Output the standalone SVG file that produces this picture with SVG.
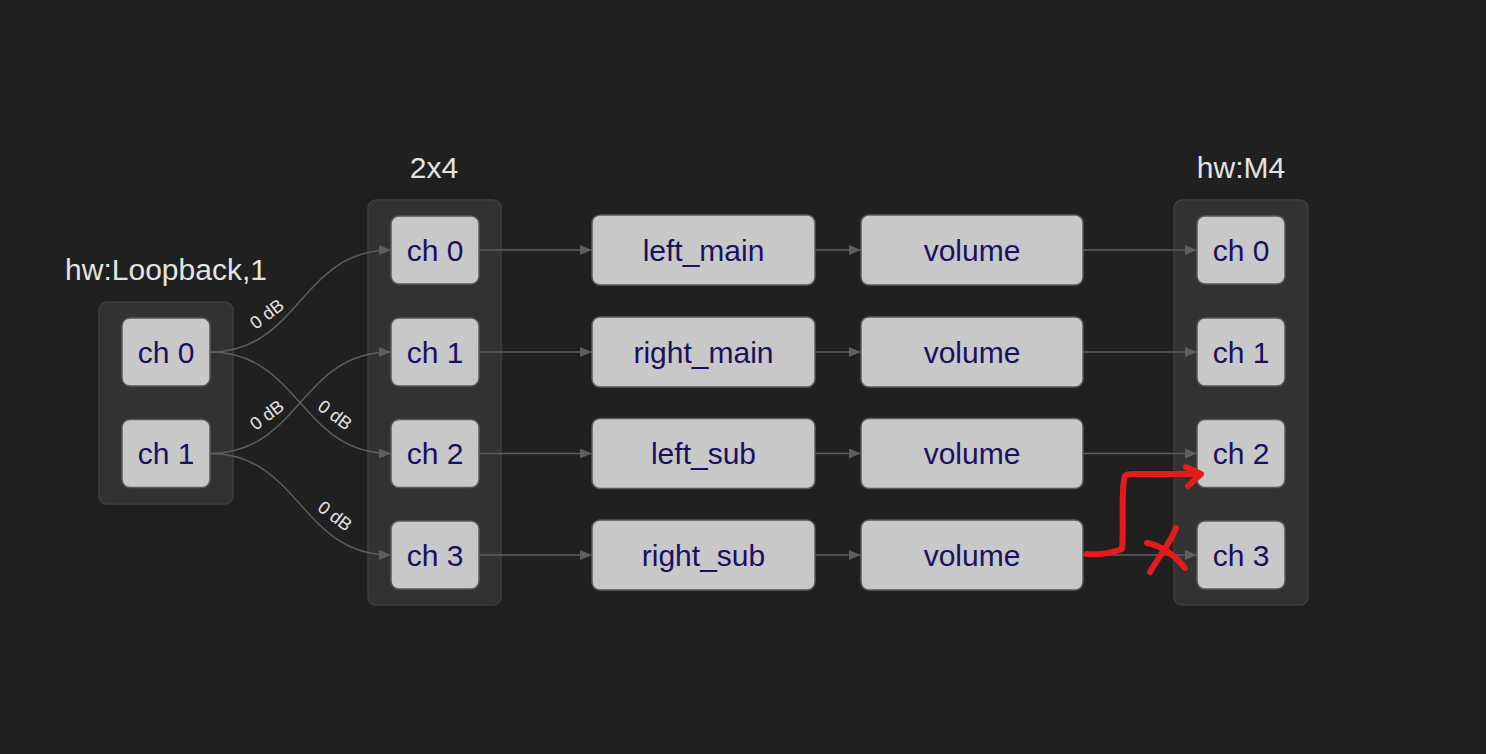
<svg xmlns="http://www.w3.org/2000/svg" width="1486" height="754" viewBox="0 0 1486 754">
<defs>
<marker id="arr" markerUnits="userSpaceOnUse" markerWidth="12" markerHeight="10" refX="12" refY="5" orient="auto">
<path d="M0,0 L12,5 L0,10 Z" fill="#5e5e5e"/>
</marker>
</defs>
<style>
.cl{fill:#323232;stroke:#3e3e3e;stroke-width:1.5}
.cll{font-family:"Liberation Sans",Arial,sans-serif;font-size:30px;fill:#e4e4e4;text-anchor:middle}
.nd{fill:#c8c8c8;stroke:#5a5a5a;stroke-width:1.5}
.nt{font-family:"Liberation Sans",Arial,sans-serif;font-size:30px;fill:#1a1060;text-anchor:middle;dominant-baseline:central}
.e{fill:none;stroke:#5e5e5e;stroke-width:1.5;marker-end:url(#arr)}
.el{font-family:"Liberation Sans",Arial,sans-serif;font-size:18px;fill:#e4e4e4;text-anchor:middle;dominant-baseline:central}
.red{fill:none;stroke:#e41b1b;stroke-width:6;stroke-linecap:round;stroke-linejoin:round}
</style>
<rect width="1486" height="754" fill="#202020"/>

<g id="cluster-loopback">
<rect class="cl" x="99" y="302" width="134" height="202" rx="8"/>
<text class="cll" x="166" y="280">hw:Loopback,1</text>
</g>
<g id="cluster-2x4">
<rect class="cl" x="368" y="200" width="133" height="405" rx="8"/>
<text class="cll" x="434" y="178">2x4</text>
</g>
<g id="cluster-m4">
<rect class="cl" x="1174" y="200" width="134" height="405" rx="8"/>
<text class="cll" x="1241" y="178">hw:M4</text>
</g>

<g id="connectors">
<path class="e" d="M210,352 C300,352 300,250 391,250"/>
<path class="e" d="M210,352 C300,352 300,453.5 391,453.5"/>
<path class="e" d="M210,453.5 C300,453.5 300,352 391,352"/>
<path class="e" d="M210,453.5 C300,453.5 300,555 391,555"/>
<text class="el" transform="translate(267,314) rotate(-37)">0 dB</text>
<text class="el" transform="translate(267,415) rotate(-37)">0 dB</text>
<text class="el" transform="translate(335,415) rotate(37)">0 dB</text>
<text class="el" transform="translate(335,516) rotate(37)">0 dB</text>
<path class="e" d="M479,250 H592"/>
<path class="e" d="M479,352 H592"/>
<path class="e" d="M479,453.5 H592"/>
<path class="e" d="M479,555 H592"/>
<path class="e" d="M815,250 H861"/>
<path class="e" d="M815,352 H861"/>
<path class="e" d="M815,453.5 H861"/>
<path class="e" d="M815,555 H861"/>
<path class="e" d="M1083,250 H1197"/>
<path class="e" d="M1083,352 H1197"/>
<path class="e" d="M1083,453.5 H1197"/>
<path class="e" d="M1083,555 H1197"/>
</g>

<g id="loop-ch0"><rect class="nd" x="122" y="318" width="88" height="68" rx="8"/><text class="nt" x="166" y="352">ch 0</text></g>
<g id="loop-ch1"><rect class="nd" x="122" y="419.5" width="88" height="68" rx="8"/><text class="nt" x="166" y="453.5">ch 1</text></g>

<g id="s-ch0"><rect class="nd" x="391" y="216" width="88" height="68" rx="8"/><text class="nt" x="435" y="250">ch 0</text></g>
<g id="s-ch1"><rect class="nd" x="391" y="318" width="88" height="68" rx="8"/><text class="nt" x="435" y="352">ch 1</text></g>
<g id="s-ch2"><rect class="nd" x="391" y="419.5" width="88" height="68" rx="8"/><text class="nt" x="435" y="453.5">ch 2</text></g>
<g id="s-ch3"><rect class="nd" x="391" y="521" width="88" height="68" rx="8"/><text class="nt" x="435" y="555">ch 3</text></g>

<g id="left_main"><rect class="nd" x="592" y="215" width="223" height="70" rx="8"/><text class="nt" x="703.5" y="250">left_main</text></g>
<g id="right_main"><rect class="nd" x="592" y="317" width="223" height="70" rx="8"/><text class="nt" x="703.5" y="352">right_main</text></g>
<g id="left_sub"><rect class="nd" x="592" y="418.5" width="223" height="70" rx="8"/><text class="nt" x="703.5" y="453.5">left_sub</text></g>
<g id="right_sub"><rect class="nd" x="592" y="520" width="223" height="70" rx="8"/><text class="nt" x="703.5" y="555">right_sub</text></g>

<g id="volume0"><rect class="nd" x="861" y="215" width="222" height="70" rx="8"/><text class="nt" x="972" y="250">volume</text></g>
<g id="volume1"><rect class="nd" x="861" y="317" width="222" height="70" rx="8"/><text class="nt" x="972" y="352">volume</text></g>
<g id="volume2"><rect class="nd" x="861" y="418.5" width="222" height="70" rx="8"/><text class="nt" x="972" y="453.5">volume</text></g>
<g id="volume3"><rect class="nd" x="861" y="520" width="222" height="70" rx="8"/><text class="nt" x="972" y="555">volume</text></g>

<g id="m4-ch0"><rect class="nd" x="1197" y="216" width="88" height="68" rx="8"/><text class="nt" x="1241" y="250">ch 0</text></g>
<g id="m4-ch1"><rect class="nd" x="1197" y="318" width="88" height="68" rx="8"/><text class="nt" x="1241" y="352">ch 1</text></g>
<g id="m4-ch2"><rect class="nd" x="1197" y="419.5" width="88" height="68" rx="8"/><text class="nt" x="1241" y="453.5">ch 2</text></g>
<g id="m4-ch3"><rect class="nd" x="1197" y="521" width="88" height="68" rx="8"/><text class="nt" x="1241" y="555">ch 3</text></g>

<g id="annotation">
<path class="red" d="M1087,554 C1100,555 1112,553 1122,549 C1124,530 1121,500 1124,480 C1124,474 1128,474 1135,474 L1200,474"/>
<path class="red" d="M1186,467 L1201,474 L1188,486"/>
<path class="red" d="M1147,543 C1160,545 1175,555 1185,568"/>
<path class="red" d="M1176,528 C1172,540 1160,555 1150,572"/>
</g>
</svg>
